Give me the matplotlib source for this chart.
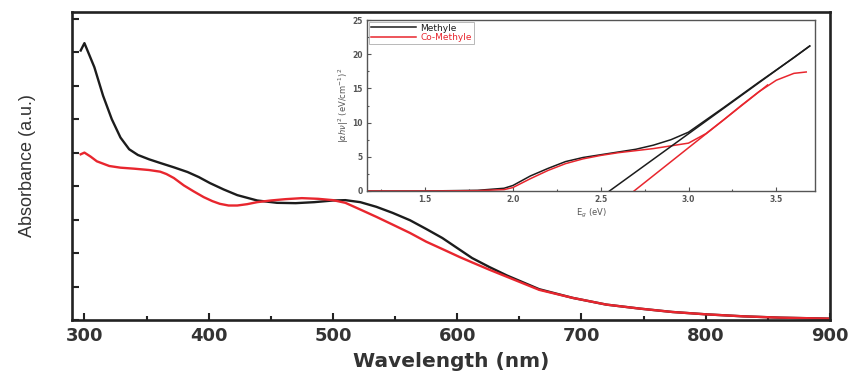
import numpy as np
import matplotlib
matplotlib.use("Agg")
import matplotlib.pyplot as plt
from matplotlib.ticker import MultipleLocator

# main spectrum (wavelength nm, absorbance a.u.)
black_wl = [297, 300, 308, 315, 322, 329, 336, 343, 352, 361, 372, 383, 392, 401, 412,
            423, 439, 455, 470, 485, 500, 510, 522, 535, 548, 562, 575, 588, 600, 612,
            626, 640, 666, 693, 720, 747, 773, 800, 830, 860, 900]
black_abs = [8.05, 8.27, 7.55, 6.7, 6.0, 5.45, 5.1, 4.93, 4.8, 4.69, 4.56, 4.42, 4.27, 4.09, 3.9,
             3.73, 3.57, 3.5, 3.49, 3.52, 3.57, 3.58, 3.52, 3.38, 3.2, 2.98, 2.72, 2.45, 2.15, 1.85,
             1.58, 1.33, 0.92, 0.66, 0.46, 0.34, 0.24, 0.17, 0.11, 0.07, 0.04]

red_wl = [297, 300, 305, 310, 320, 329, 340, 352, 361, 366, 372, 380, 388, 396, 403, 409,
          416, 423, 431, 439, 450, 462, 475, 488, 500, 510, 522, 535, 548, 562, 575, 588,
          602, 612, 626, 640, 666, 693, 720, 747, 773, 800, 830, 860, 900]
red_abs = [4.95, 5.0, 4.88, 4.74, 4.6, 4.55, 4.52, 4.48, 4.43, 4.36, 4.24, 4.02, 3.84, 3.67, 3.55, 3.47,
           3.42, 3.42, 3.46, 3.52, 3.57, 3.61, 3.64, 3.62, 3.58, 3.50, 3.30, 3.08, 2.85, 2.6, 2.34, 2.12,
           1.88, 1.72, 1.5, 1.29, 0.9, 0.66, 0.46, 0.34, 0.24, 0.17, 0.11, 0.07, 0.04]

# inset Tauc plot
meth_e = [1.17, 1.5, 1.8, 1.95, 2.0, 2.1, 2.2, 2.3, 2.4, 2.5, 2.6, 2.7, 2.8, 2.9, 3.0, 3.2, 3.4, 3.6, 3.69]
meth_y = [0, 0, 0.1, 0.4, 0.8, 2.2, 3.3, 4.3, 4.9, 5.3, 5.7, 6.1, 6.7, 7.5, 8.6, 12.2, 15.9, 19.5, 21.2]
meth_fit_e = [2.55, 3.69]
meth_fit_y = [0, 21.2]

co_e = [1.17, 1.5, 1.8, 1.95, 2.0, 2.1, 2.2, 2.3, 2.4, 2.5, 2.6, 2.7, 2.8, 2.9, 3.0, 3.1,
        3.2, 3.3, 3.4, 3.5, 3.6, 3.67]
co_y = [0, 0, 0.05, 0.2, 0.5, 1.8, 3.0, 4.0, 4.7, 5.2, 5.6, 5.9, 6.2, 6.6, 7.0, 8.4,
        10.4, 12.5, 14.5, 16.2, 17.2, 17.4]
co_fit_e = [2.69, 3.45]
co_fit_y = [0, 15.5]

BLACK = "#1c1c1c"
RED = "#e8262e"

fig = plt.figure(figsize=(8.54, 3.72), dpi=100)
ax = fig.add_axes([72/854, 1-320/372, 758/854, 308/372])

ax.plot(black_wl, black_abs, color=BLACK, lw=1.7)
ax.plot(red_wl, red_abs, color=RED, lw=1.7)

ax.set_xlim(290, 900)
ax.set_ylim(0, 9.2)
ax.xaxis.set_major_locator(MultipleLocator(100))
ax.xaxis.set_minor_locator(MultipleLocator(50))
ax.yaxis.set_major_locator(MultipleLocator(1))
ax.set_yticklabels([])
ax.tick_params(which="both", direction="in", width=1.5, colors="#222222")
ax.tick_params(which="major", length=5)
ax.tick_params(which="minor", length=3)
ax.tick_params(axis="x", labelsize=13, pad=5)
for lab in ax.get_xticklabels():
    lab.set_fontweight("bold")
    lab.set_color("#333333")
for s in ax.spines.values():
    s.set_linewidth(1.9)
    s.set_color("#222222")

ax.set_xlabel("Wavelength (nm)", fontsize=14.5, fontweight="bold", color="#333333")
ax.xaxis.set_label_coords(0.5, -0.105)
ax.set_ylabel("Absorbance (a.u.)", fontsize=13, color="#333333",
              family=["Liberation Sans", "DejaVu Sans"])
ax.yaxis.set_label_coords(-0.047, 0.5)

# inset
ins = fig.add_axes([367/854, 1-191/372, 448/854, 171/372])
ins.plot(meth_e, meth_y, color=BLACK, lw=1.1, label="Methyle")
ins.plot(co_e, co_y, color=RED, lw=1.1, label="Co-Methyle")
ins.plot(meth_fit_e, meth_fit_y, color=BLACK, lw=1.1)
ins.plot(co_fit_e, co_fit_y, color=RED, lw=1.1)
ins.set_xlim(1.17, 3.72)
ins.set_ylim(0, 25)
ins.xaxis.set_major_locator(MultipleLocator(0.5))
ins.xaxis.set_minor_locator(MultipleLocator(0.25))
ins.yaxis.set_major_locator(MultipleLocator(5))
ins.yaxis.set_minor_locator(MultipleLocator(2.5))
ins.tick_params(which="both", direction="in", width=0.8, labelsize=5.5,
                colors="#555555", pad=3)
ins.tick_params(which="major", length=3)
ins.tick_params(which="minor", length=1.5)
for lab in ins.get_xticklabels() + ins.get_yticklabels():
    lab.set_fontweight("bold")
for s in ins.spines.values():
    s.set_linewidth(1.0)
    s.set_color("#555555")
ins.set_xlabel(r"E$_g$ (eV)", fontsize=6, color="#555555", labelpad=2)
ins.set_ylabel(r"$|\alpha h\nu|^2\ (\mathrm{eV/cm^{-1}})^2$", fontsize=6,
               color="#555555", labelpad=1)
leg = ins.legend(loc="upper left", fontsize=6.5, frameon=True, fancybox=False,
                 borderpad=0.2, labelspacing=0.05, handlelength=5, handletextpad=0.5,
                 borderaxespad=0.2)
leg.get_frame().set_edgecolor("#999999")
leg.get_frame().set_linewidth(0.6)
for t, c in zip(leg.get_texts(), [BLACK, RED]):
    t.set_color(c)

fig.savefig("out.png", dpi=100)
